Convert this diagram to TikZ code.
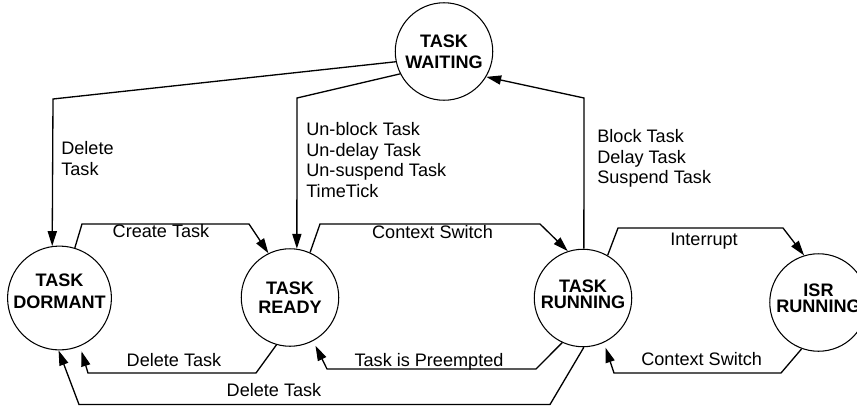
\documentclass[tikz,border=0pt]{standalone}
\usepackage{fontspec}
\setmainfont{Liberation Sans}
\usetikzlibrary{arrows.meta}
\tikzset{
  state/.style={circle,draw,line width=0.6pt,minimum size=1.95cm,inner sep=0pt,align=center},
  conn/.style={line width=0.75pt,-{Triangle[length=8.5pt,width=5.2pt]}},
  gap/.style={shorten >=3pt},
  lab/.style={inner sep=0pt,font=\fontsize{10.3}{11.7}\selectfont},
}
\newcommand{\statefont}[1]{\bfseries\fontsize{10.3}{#1}\selectfont}

\begin{document}
\begin{tikzpicture}[x=0.02cm,y=-0.02cm]
    \useasboundingbox (0,0) rectangle (857,406);
    \clip (0,0) rectangle (857,406);
    %% states
    \node[state,font=\statefont{12.2pt}] (waiting) at (444,51.5) {TASK\\WAITING};
    \node[state,font=\statefont{12.2pt},text depth=7.9pt] (dormant) at (59.5,298) {TASK\\DORMANT};
    \node[state,font=\statefont{10.9pt}] (ready) at (290,297.5) {TASK\\READY};
    \node[state,font=\statefont{9.4pt},text depth=4.5pt] (running) at (583,298) {TASK\\RUNNING};
    \node[state,font=\statefont{9.4pt},text depth=5.1pt] (isr) at (818.5,302.5) {ISR\\RUNNING};
    %% out of waiting
    \draw[conn] (waiting.192) -- (53,99) -- (dormant.98);
    \node[lab,align=left,anchor=north west] (ldel) at (61,141) {Delete\\Task};
    \draw[conn] (waiting.207) -- (297,98) -- (ready.82);
    \node[lab,align=left,anchor=north west] (lunblock) at (306,122) {Un-block Task\\Un-delay Task\\Un-suspend Task\\TimeTick};
    %% into waiting
    \draw[conn] (running.89) -- (584,98) -- (waiting.329);
    \node[lab,align=left,anchor=north west] (lblock) at (597,129) {Block Task\\Delay Task\\Suspend Task};
    %% upper row
    \draw[conn] (dormant.73) -- (82,224) -- (249,224) -- (ready.116);
    \node[lab,anchor=base] (lcreate) at (161,237.7) {Create Task};
    \draw[conn] (ready.66) -- (320,224) -- (540,224) -- (running.108);
    \node[lab,anchor=base] (lswitch) at (432.5,238) {Context Switch};
    \draw[conn] (running.60) -- (618,228) -- (783,228) -- (isr.107);
    \node[lab,anchor=base] (lint) at (704,245) {Interrupt};
    %% lower row
    \draw[conn,gap] (isr.250) -- (781,373) -- (614,373) -- (running.295);
    \node[lab,anchor=base] (lisrback) at (701.7,365.7) {Context Switch};
    \draw[conn,gap] (running.245) -- (536,369) -- (327,369) -- (ready.298);
    \node[lab,anchor=base] (lpre) at (429,366) {Task is Preempted};
    \draw[conn,gap] (ready.254) -- (256,373) -- (88,373) -- (dormant.293);
    \node[lab,anchor=base] (ldel2) at (174,366.7) {Delete Task};
    \draw[conn] (running.271) -- (550,404.5) -- (79,404.5) -- (dormant.269);
    \node[lab,anchor=base] (ldel3) at (274,396) {Delete Task};
\end{tikzpicture}
\end{document}
